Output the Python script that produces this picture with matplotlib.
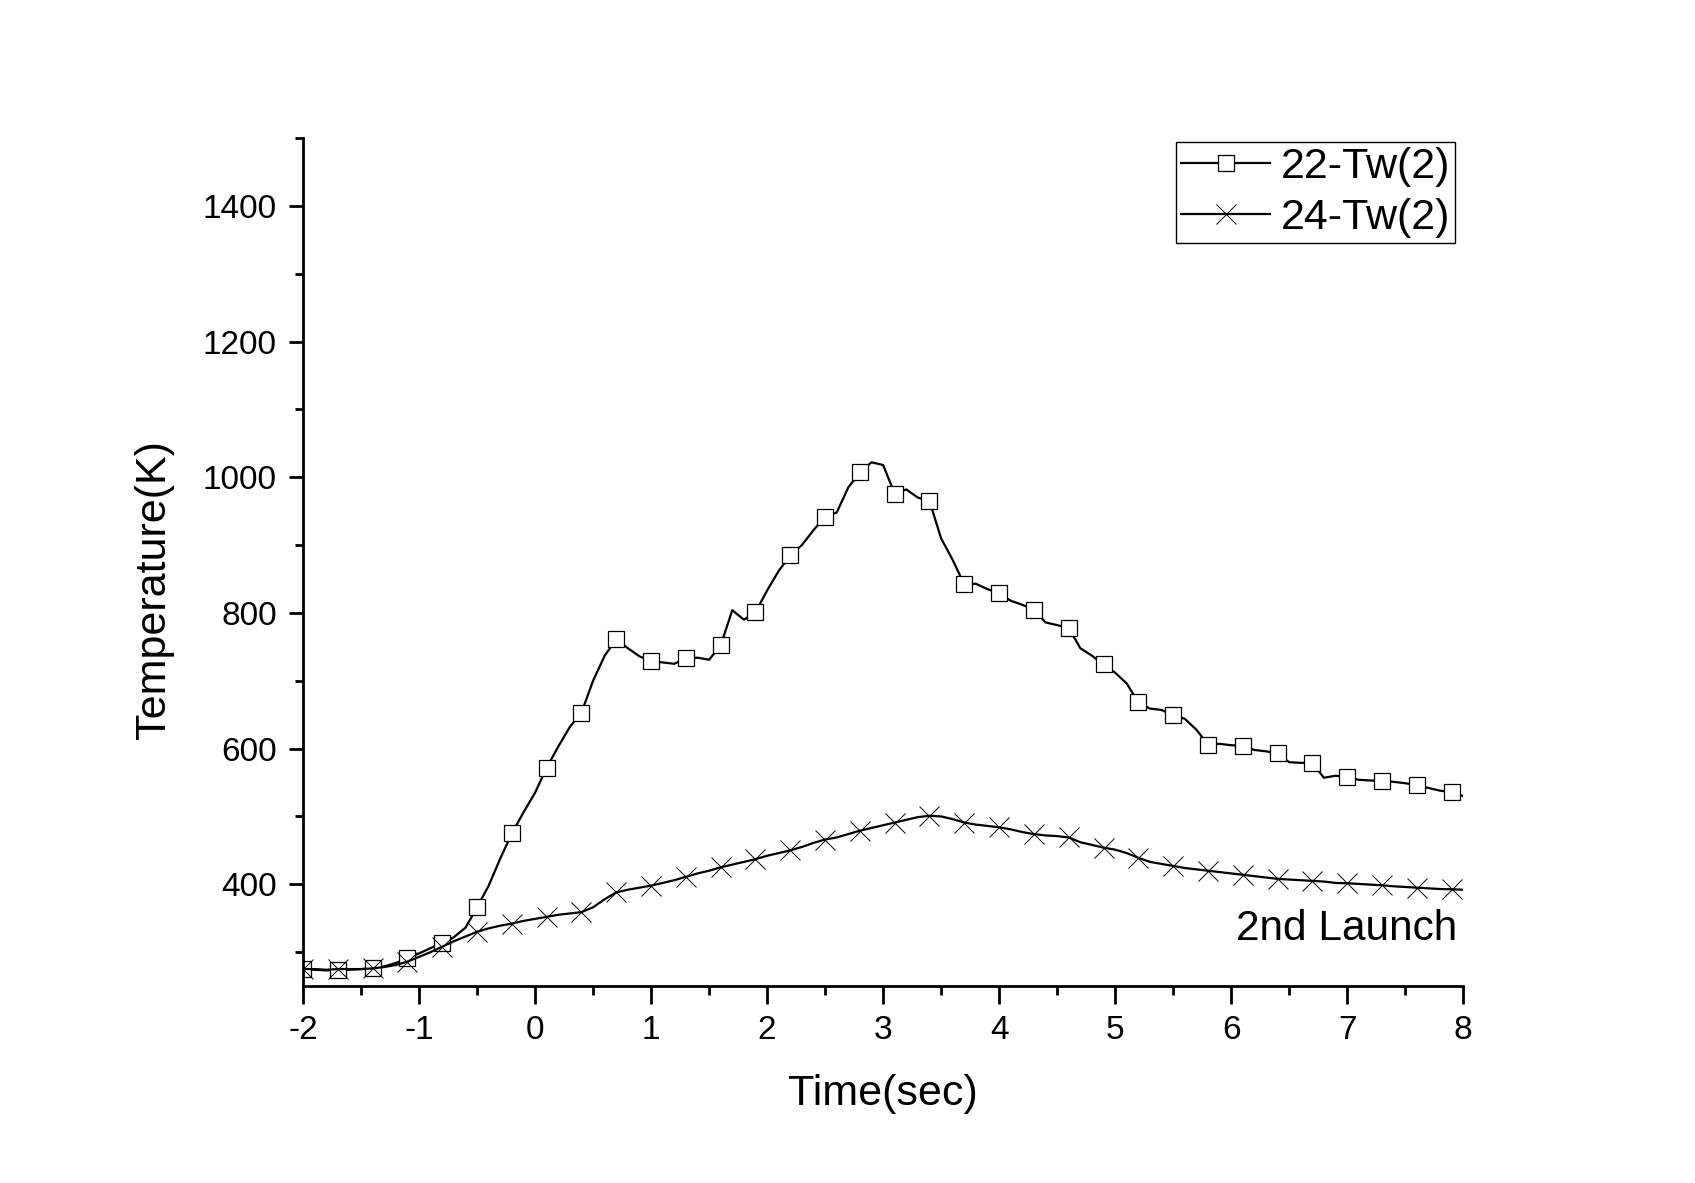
import matplotlib as mpl
import matplotlib.pyplot as plt
import numpy as np

mpl.rcParams.update({
    "font.family": ["Liberation Sans", "DejaVu Sans"],
    "font.size": 24,
    "axes.unicode_minus": False,
})

# time axis, 0.1 s steps from -2 to 8 s (markers every 0.3 s)
time_s = np.round(np.arange(-2.0, 8.0001, 0.1), 1)

tw22 = [
    275, 274, 273, 274, 274, 275, 276, 279, 284, 291,
    298, 306, 313, 322, 336, 366, 398, 438, 475, 506,
    535, 572, 603, 632, 653, 700, 737, 761, 748, 736,
    729, 727, 725, 733, 734, 731, 752, 804, 790, 801,
    833, 862, 885, 900, 922, 942, 948, 985, 1007, 1022,
    1018, 976, 982, 970, 965, 910, 878, 842, 843, 835,
    829, 818, 812, 805, 786, 782, 778, 748, 737, 724,
    712, 696, 668, 659, 657, 649, 644, 628, 606, 607,
    605, 604, 598, 596, 593, 580, 579, 579, 557, 560,
    558, 554, 553, 552, 551, 549, 546, 542, 538, 536,
    530,
]

tw24 = [
    275, 275, 274, 275, 275, 275, 276, 278, 281, 286,
    293, 300, 308, 316, 323, 330, 335, 339, 342, 346,
    349, 352, 355, 357, 359, 366, 378, 388, 392, 395,
    398, 402, 406, 411, 416, 420, 425, 429, 433, 437,
    442, 446, 450, 455, 461, 466, 469, 474, 479, 483,
    487, 491, 495, 499, 501, 500, 496, 491, 488, 486,
    484, 481, 477, 474, 472, 471, 469, 462, 458, 454,
    451, 446, 439, 433, 430, 427, 424, 422, 420, 418,
    416, 414, 412, 410, 408, 407, 406, 405, 404, 402,
    401.5, 400.5, 399.5, 398.5, 397, 396, 395, 394, 393, 392.6,
    392,
]

fig = plt.figure(figsize=(16.95, 11.83), dpi=100)
ax = fig.add_axes([0.1788, 0.1665, 0.6844, 0.7168])

ax.plot(time_s, tw22, color="black", lw=1.6, marker="s", markevery=3,
        markersize=11.5, markerfacecolor="white", markeredgecolor="black",
        markeredgewidth=0.9, label="22-Tw(2)")
ax.plot(time_s, tw24, color="black", lw=1.6, marker="x", markevery=3,
        markersize=14, markeredgewidth=0.7, label="24-Tw(2)")

ax.set_xlim(-2, 8)
ax.set_ylim(250, 1500)
ax.set_xticks(np.arange(-2, 9, 1))
ax.set_xticks(np.arange(-2, 8.01, 0.5), minor=True)
ax.set_yticks(np.arange(400, 1401, 200))
ax.set_yticks(np.arange(300, 1501, 100), minor=True)

for side in ("top", "right"):
    ax.spines[side].set_visible(False)
for side in ("left", "bottom"):
    ax.spines[side].set_linewidth(2)

ax.tick_params(axis="x", which="major", direction="out", length=13, width=2,
               pad=8, labelsize=24)
ax.tick_params(axis="x", which="minor", direction="out", length=6.5, width=2)
ax.tick_params(axis="y", which="major", direction="out", length=10, width=2,
               pad=9, labelsize=24)
ax.tick_params(axis="y", which="minor", direction="out", length=6, width=2)

ax.set_xlabel("Time(sec)", fontsize=31, labelpad=20)
ax.set_ylabel("Temperature(K)", fontsize=31)
ax.yaxis.set_label_coords(-0.111, 0.4675)

ax.text(7.95, 318, "2nd Launch", fontsize=30.5, ha="right", va="baseline")

leg = ax.legend(loc="upper right", bbox_to_anchor=(0.993, 0.995),
                borderaxespad=0, fontsize=31, numpoints=1, fancybox=False,
                handlelength=2.05, handletextpad=0.25, labelspacing=0.25,
                borderpad=0.12, framealpha=1)
leg.get_frame().set_edgecolor("black")
leg.get_frame().set_linewidth(1)

fig.savefig("out.png", dpi=100)
